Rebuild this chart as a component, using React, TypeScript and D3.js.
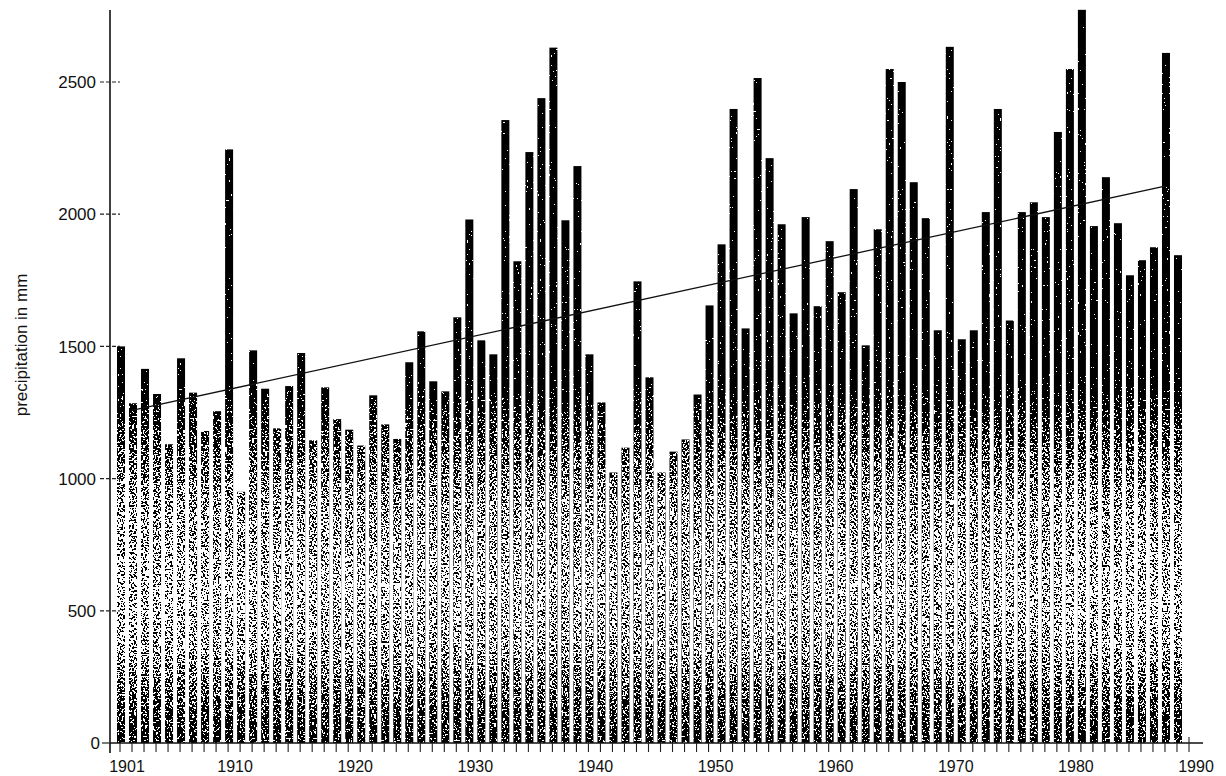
import React from 'react';
import * as d3 from 'd3';

// ---- data ----
const years: number[] = d3.range(1901, 1990);
const precipitation: number[] = [
  1500, 1285, 1415, 1320, 1130, 1455, 1325, 1180, 1255, 2245,
  950, 1485, 1340, 1190, 1350, 1475, 1145, 1345, 1225, 1185,
  1125, 1315, 1205, 1150, 1440, 1557, 1368, 1330, 1610, 1980,
  1523, 1470, 2356, 1822, 2235, 2439, 2630, 1977, 2182, 1470,
  1288, 1023, 1117, 1746, 1383, 1023, 1102, 1148, 1318, 1655,
  1886, 2398, 1568, 2515, 2212, 1962, 1625, 1989, 1652, 1898,
  1705, 2095, 1504, 1943, 2549, 2500, 2121, 1985, 1561, 2633,
  1527, 1561, 2008, 2398, 1598, 2008, 2045, 1989, 2311, 2549,
  2773, 1955, 2140, 1966, 1769, 1826, 1875, 2610, 1845,
];
const trendYears: number[] = [1902, 1988];
const trendValues: number[] = [1258, 2106];
const yTickValues: number[] = [0, 500, 1000, 1500, 2000, 2500];
const xLabelYears: number[] = [1901, 1910, 1920, 1930, 1940, 1950, 1960, 1970, 1980, 1990];
const tickYears: number[] = d3.range(1901, 1991);
const yAxisTitle = 'precipitation in mm';

const FONT = "'Liberation Sans', Arial, Helvetica, sans-serif";

export default function App() {
  const W = 1226;
  const H = 776;
  const x = d3.scaleLinear().domain([1901, 1990]).range([120, 1189]);
  const y = d3.scaleLinear().domain([0, 2500]).range([743, 82]);
  const barW = 8;
  const axisX = 110;
  const baseY = y(0);

  const trendLine = d3
    .line<number>()
    .x((_, i) => x(trendYears[i]))
    .y((d) => y(d))(trendValues) as string;

  return (
    <div style={{ position: 'absolute', left: 0, top: 0 }}>
      <svg width={W} height={H} style={{ display: 'block', background: '#fff' }}>
        <defs>
          <linearGradient id="barTone" gradientUnits="userSpaceOnUse" x1="0" y1="0" x2="0" y2={baseY}>
            <stop offset={0} stopColor="#000" />
            <stop offset={380 / 743} stopColor="#000" />
            <stop offset={430 / 743} stopColor="#505050" />
            <stop offset={500 / 743} stopColor="#8a8a8a" />
            <stop offset={590 / 743} stopColor="#a0a0a0" />
            <stop offset={650 / 743} stopColor="#909090" />
            <stop offset={700 / 743} stopColor="#606060" />
            <stop offset={1} stopColor="#3a3a3a" />
          </linearGradient>
          <filter id="grain" colorInterpolationFilters="sRGB" x="0" y="0" width="1" height="1">
            <feTurbulence type="fractalNoise" baseFrequency="0.55" numOctaves={1} seed={7} result="noise" />
            <feColorMatrix
              in="noise"
              type="matrix"
              values="1 0 0 0 0  1 0 0 0 0  1 0 0 0 0  0 0 0 0 1"
              result="n"
            />
            <feComposite in="SourceGraphic" in2="n" operator="arithmetic" k1={0} k2={1} k3={2.4} k4={-1.2} result="sum" />
            <feComponentTransfer in="sum" result="th">
              <feFuncR type="discrete" tableValues="0 1" />
              <feFuncG type="discrete" tableValues="0 1" />
              <feFuncB type="discrete" tableValues="0 1" />
            </feComponentTransfer>
            <feComposite in="th" in2="SourceAlpha" operator="in" />
          </filter>
        </defs>

        {/* bars */}
        <g filter="url(#grain)">
          {years.map((yr, i) => (
            <rect
              key={yr}
              x={x(yr) + 1 - barW / 2}
              y={y(precipitation[i])}
              width={barW}
              height={baseY - y(precipitation[i])}
              fill="url(#barTone)"
            />
          ))}
        </g>

        {/* trend line */}
        <path d={trendLine} fill="none" stroke="#111" strokeWidth={1.3} />

        {/* y axis */}
        <line x1={axisX} x2={axisX} y1={10} y2={753} stroke="#111" strokeWidth={1.6} />
        {yTickValues.map((v) => (
          <g key={v}>
            <line
              x1={v === 0 ? 102 : 100}
              x2={v === 0 ? axisX : 120}
              y1={y(v)}
              y2={y(v)}
              stroke="#222"
              strokeWidth={1.2}
              strokeDasharray={v === 0 ? undefined : '4,2'}
            />
            <text
              x={v === 0 ? 100 : 96}
              y={y(v)}
              dy="0.36em"
              textAnchor="end"
              fontFamily={FONT}
              fontSize={17}
              fill="#111"
            >
              {v}
            </text>
          </g>
        ))}
        <text
          transform={`translate(21,${345}) rotate(-90)`}
          textAnchor="middle"
          dy="0.35em"
          fontFamily={FONT}
          fontSize={17}
          fill="#111"
        >
          {yAxisTitle}
        </text>

        {/* x axis */}
        <line x1={axisX} x2={1203} y1={baseY} y2={baseY} stroke="#111" strokeWidth={1.4} />
        {tickYears.map((yr) => (
          <line
            key={yr}
            x1={x(yr)}
            x2={x(yr)}
            y1={yr === 1990 ? baseY - 6 : baseY}
            y2={baseY + 9}
            stroke="#222"
            strokeWidth={1.1}
          />
        ))}
        {xLabelYears.map((yr) => (
          <text
            key={yr}
            x={x(yr) + 7}
            y={772}
            textAnchor="middle"
            fontFamily={FONT}
            fontSize={16}
            fill="#111"
          >
            {yr}
          </text>
        ))}
      </svg>
    </div>
  );
}
